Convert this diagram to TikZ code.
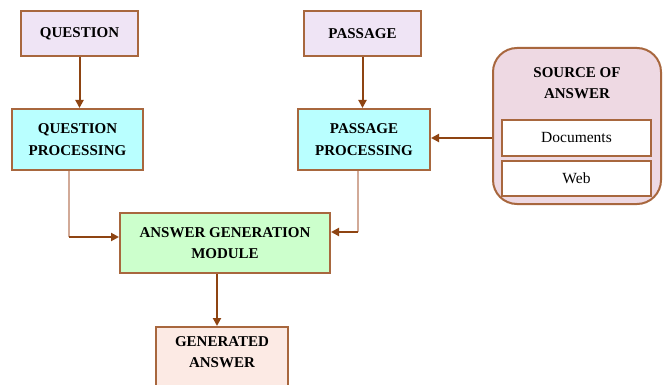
\documentclass[tikz,border=0pt]{standalone}
\usepackage{fontspec}
\setmainfont{Liberation Serif}
\usetikzlibrary{arrows.meta}
\definecolor{bord}{HTML}{A8673E}
\definecolor{arr}{HTML}{8E4412}
\definecolor{lite}{HTML}{D2AA98}
\definecolor{lav}{HTML}{EFE4F5}
\definecolor{cyanf}{HTML}{B9FFFF}
\definecolor{greenf}{HTML}{CCFFCC}
\definecolor{peach}{HTML}{FCEAE4}
\definecolor{pinkf}{HTML}{EED9E3}
\tikzset{
  lbl/.style={font=\fontsize{15}{21.5}\selectfont\bfseries, align=center, inner sep=0pt},
  box/.style={draw=bord, line width=2pt, rectangle, lbl},
  sub/.style={draw=bord, line width=2pt, rectangle, fill=white, align=center, inner sep=0pt,
    font=\fontsize{15.5}{17}\selectfont},
  arrline/.style={draw=arr, line width=2pt, -{Triangle[length=8pt,width=8pt]}},
  liteline/.style={draw=lite, line width=2pt},
}
\begin{document}
\begin{tikzpicture}[x=1pt,y=-1pt]
\clip (0,0) rectangle (664,385);
\fill[white] (0,0) rectangle (664,385);
% boxes
\node[box, fill=lav, minimum width=117, minimum height=45] (q) at (79.5,33.5) {QUESTION};
\node[box, fill=lav, minimum width=117, minimum height=45] (p) at (362.5,33.5) {PASSAGE};
\node[box, fill=cyanf, minimum width=131, minimum height=61] (qp) at (77.5,139.5) {QUESTION\\PROCESSING};
\node[box, fill=cyanf, minimum width=132, minimum height=61] (pp) at (364,139.5) {PASSAGE\\PROCESSING};
\node[box, fill=greenf, minimum width=210, minimum height=60] (agm) at (225,243) {ANSWER GENERATION\\MODULE};
\node[box, fill=peach, minimum width=132, minimum height=70, anchor=north] (ga) at (222,326) {};
\node[lbl, anchor=north] (gat) at (222,336) {GENERATED\\ANSWER};
% source
\node[draw=bord, line width=2pt, fill=pinkf, rounded corners=24pt, minimum width=168, minimum height=156] (src) at (577,126) {};
\node[lbl] (srct) at (577,83) {SOURCE OF\\ANSWER};
\node[sub, minimum width=149, minimum height=36] (doc) at (576.5,138) {Documents};
\node[sub, minimum width=149, minimum height=35] (web) at (576.5,178.5) {Web};
% connectors
\draw[arrline] (q.south) -- (q.south |- qp.north);
\draw[arrline] (p.south) -- (p.south |- pp.north);
\draw[arrline] (src.west |- doc.center) -- (pp.east |- doc.center);
\coordinate (lq) at ([xshift=-8.5pt]qp.south);
\coordinate (lqc) at (lq |- 0,237);
\draw[liteline] (lq) -- (lqc);
\draw[arrline] (lqc) -- (agm.west |- lqc);
\coordinate (rp) at ([xshift=-6pt]pp.south);
\coordinate (rpc) at (rp |- 0,232);
\draw[liteline] (rp) -- (rpc);
\draw[arrline] (rpc) -- (agm.east |- rpc);
\coordinate (am) at (217,273);
\draw[arrline] (agm.south -| am) -- (ga.north -| am);
\end{tikzpicture}
\end{document}
